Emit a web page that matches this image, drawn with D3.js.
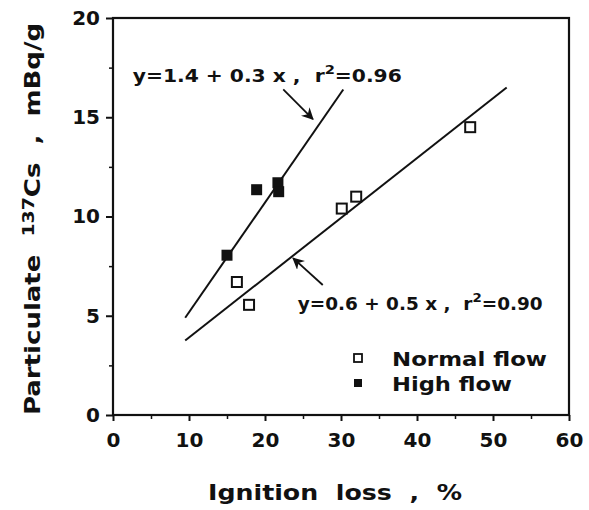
<!DOCTYPE html>
<html lang="en">
<head>
  <meta charset="UTF-8" />
  <title>Particulate 137Cs vs ignition loss</title>
  <script src="https://d3js.org/d3.v7.min.js"></script>
  <style>
    body { margin: 0; background: #fff; }
    svg { display: block; }
    text { font-family: "DejaVu Sans", Arial, sans-serif; font-weight: bold; fill: #111; }
    .tick-label { font-size: 20px; }
    .axis-title { font-size: 22px; }
    .eq { font-size: 18px; }
    .legend-label { font-size: 20px; }
  </style>
</head>
<body>
  <div id="chart"></div>
  <script>
    // Normal flow samples (open squares)
    const normalX = [16.3, 17.9, 30.1, 32.0, 47.0];
    const normalY = [6.7, 5.55, 10.4, 11.0, 14.5];

    // High flow samples (filled squares)
    const highX = [15.0, 18.9, 21.7, 21.8];
    const highY = [8.05, 11.35, 11.7, 11.25];

    // Fitted lines as drawn (end points)
    const highFitX = [9.5, 30.3];
    const highFitY = [4.9, 16.4];
    const normalFitX = [9.5, 51.8];
    const normalFitY = [3.75, 16.5];

    const xTicks = [0, 10, 20, 30, 40, 50, 60];
    const yTicks = [0, 5, 10, 15, 20];
    const xMinor = [5, 15, 25, 35, 45, 55];
    const yMinor = [2.5, 7.5, 12.5, 17.5];

    const width = 589, height = 510;
    const margin = { top: 18, right: 20, bottom: 95, left: 113 };

    const svg = d3.select("#chart").append("svg")
      .attr("width", width)
      .attr("height", height);

    const x = d3.scaleLinear().domain([0, 60]).range([margin.left, width - margin.right]);
    const y = d3.scaleLinear().domain([0, 20]).range([height - margin.bottom, margin.top]);

    // frame
    svg.append("rect")
      .attr("x", x(0)).attr("y", y(20))
      .attr("width", x(60) - x(0)).attr("height", y(0) - y(20))
      .attr("fill", "none").attr("stroke", "#111").attr("stroke-width", 2.2);

    // x axis
    svg.append("g")
      .attr("transform", `translate(0,${y(0)})`)
      .call(d3.axisBottom(x).tickValues(xTicks).tickSize(6).tickPadding(12))
      .call(g => g.select(".domain").remove())
      .call(g => g.selectAll("line").attr("stroke", "#111").attr("stroke-width", 2))
      .call(g => g.selectAll("text").attr("class", "tick-label").attr("fill", "#111"));
    svg.append("g")
      .attr("transform", `translate(0,${y(0)})`)
      .call(d3.axisBottom(x).tickValues(xMinor).tickSize(4).tickFormat(""))
      .call(g => g.select(".domain").remove())
      .call(g => g.selectAll("line").attr("stroke", "#111").attr("stroke-width", 1.5));

    // y axis
    svg.append("g")
      .attr("transform", `translate(${x(0)},0)`)
      .call(d3.axisLeft(y).tickValues(yTicks).tickSize(7).tickPadding(6))
      .call(g => g.select(".domain").remove())
      .call(g => g.selectAll("line").attr("stroke", "#111").attr("stroke-width", 2))
      .call(g => g.selectAll("text").attr("class", "tick-label").attr("fill", "#111"));
    svg.append("g")
      .attr("transform", `translate(${x(0)},0)`)
      .call(d3.axisLeft(y).tickValues(yMinor).tickSize(4).tickFormat(""))
      .call(g => g.select(".domain").remove())
      .call(g => g.selectAll("line").attr("stroke", "#111").attr("stroke-width", 1.5));

    // axis titles
    svg.append("text")
      .attr("class", "axis-title")
      .attr("x", 208).attr("y", 500)
      .attr("textLength", 254)
      .attr("lengthAdjust", "spacingAndGlyphs")
      .attr("xml:space", "preserve")
      .text("Ignition  loss  ,  %");

    const yt = svg.append("text")
      .attr("class", "axis-title")
      .attr("transform", "translate(40,415) rotate(-90)")
      .attr("textLength", 392)
      .attr("lengthAdjust", "spacingAndGlyphs")
      .attr("xml:space", "preserve");
    yt.append("tspan").text("Particulate  ");
    yt.append("tspan").attr("font-size", "16px").attr("dy", -6).text("137");
    yt.append("tspan").attr("dy", 6).text("Cs  ,  mBq/g");

    // fitted lines
    const line = d3.line().x(d => x(d[0])).y(d => y(d[1]));
    svg.append("path")
      .attr("d", line(d3.zip(highFitX, highFitY)))
      .attr("fill", "none").attr("stroke", "#111").attr("stroke-width", 2);
    svg.append("path")
      .attr("d", line(d3.zip(normalFitX, normalFitY)))
      .attr("fill", "none").attr("stroke", "#111").attr("stroke-width", 2);

    // points
    const sq = 10;
    svg.selectAll(".normal")
      .data(d3.zip(normalX, normalY))
      .join("rect")
      .attr("class", "normal")
      .attr("x", d => x(d[0]) - sq / 2).attr("y", d => y(d[1]) - sq / 2)
      .attr("width", sq).attr("height", sq)
      .attr("fill", "#fff").attr("stroke", "#111").attr("stroke-width", 2);
    svg.selectAll(".high")
      .data(d3.zip(highX, highY))
      .join("rect")
      .attr("class", "high")
      .attr("x", d => x(d[0]) - 5.5).attr("y", d => y(d[1]) - 5.5)
      .attr("width", 11).attr("height", 11)
      .attr("fill", "#111");

    // arrows + equations
    svg.append("defs").append("marker")
      .attr("id", "arrow")
      .attr("viewBox", "0 0 10 10")
      .attr("refX", 9).attr("refY", 5)
      .attr("markerUnits", "userSpaceOnUse")
      .attr("orient", "auto")
      .attr("markerWidth", 12).attr("markerHeight", 12)
      .append("path").attr("d", "M0,0 L10,5 L0,10 L3,5 Z").attr("fill", "#111");

    const arrows = [
      { from: [22.4, 16.4], to: [26.3, 14.9] },
      { from: [27.6, 6.55], to: [23.7, 7.9] }
    ];
    svg.selectAll(".arrow")
      .data(arrows)
      .join("line")
      .attr("x1", d => x(d.from[0])).attr("y1", d => y(d.from[1]))
      .attr("x2", d => x(d.to[0])).attr("y2", d => y(d.to[1]))
      .attr("stroke", "#111").attr("stroke-width", 1.8)
      .attr("marker-end", "url(#arrow)");

    function eqText(px, py, a, b, r2, len) {
      const t = svg.append("text").attr("class", "eq")
        .attr("x", x(px)).attr("y", y(py))
        .attr("textLength", len)
        .attr("lengthAdjust", "spacingAndGlyphs")
        .attr("xml:space", "preserve");
      t.append("tspan").text(`y=${a} + ${b} x ,  r`);
      t.append("tspan").attr("font-size", "13px").attr("dy", -8).text("2");
      t.append("tspan").attr("dy", 8).text(`=${r2}`);
    }
    eqText(2.6, 16.8, "1.4", "0.3", "0.96", 269);
    eqText(24.3, 5.3, "0.6", "0.5", "0.90", 245);

    // legend
    const lg = svg.append("g").attr("transform", "translate(358,358)");
    lg.append("rect").attr("x", -4).attr("y", -4).attr("width", 8).attr("height", 8)
      .attr("fill", "#fff").attr("stroke", "#111").attr("stroke-width", 1.8);
    lg.append("text").attr("class", "legend-label").attr("x", 34).attr("y", 8)
      .attr("textLength", 155).attr("lengthAdjust", "spacingAndGlyphs").text("Normal flow");
    lg.append("rect").attr("x", -4).attr("y", 21).attr("width", 8).attr("height", 8)
      .attr("fill", "#111");
    lg.append("text").attr("class", "legend-label").attr("x", 34).attr("y", 33)
      .attr("textLength", 120).attr("lengthAdjust", "spacingAndGlyphs").text("High flow");
  </script>
</body>
</html>
